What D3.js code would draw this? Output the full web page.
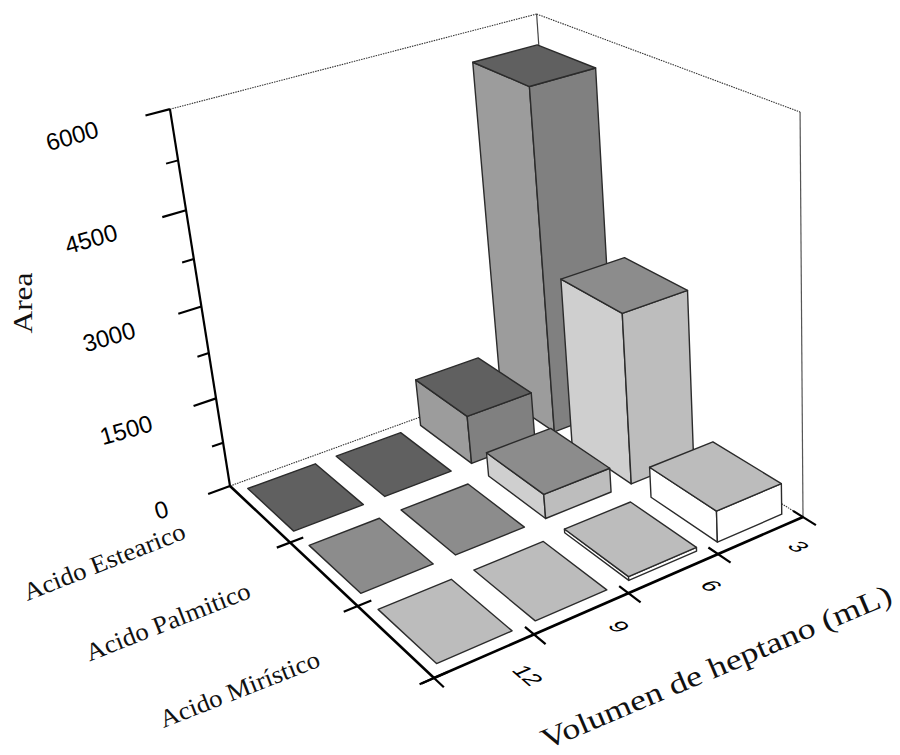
<!DOCTYPE html>
<html>
<head>
<meta charset="utf-8">
<script src="https://d3js.org/d3.v7.min.js"></script>
<style>
  body { margin: 0; background: #fff; }
  .num { font-family: "Liberation Sans", Arial, sans-serif; fill: #000; }
  .lab { font-family: "Liberation Serif", serif; fill: #111; }
</style>
</head>
<body>
<div id="chart"></div>
<script>
// Data
const volumes = ["12", "9", "6", "3"];
const acids = ["Acido Estearico", "Acido Palmitico", "Acido Mirístico"];
const estearicoArea = [0, 0, 810, 5610];
const palmiticoArea = [0, 0, 400, 2770];
const miristicoArea = [0, 0, 60, 500];
const areaTicks = [0, 1500, 3000, 4500, 6000];
const areaMinorTicks = [750, 2250, 3750, 5250];

// top, left face, right face for each acid
const topFill = ["#606060", "#8c8c8c", "#bcbcbc"];
const leftFill = ["#9c9c9c", "#cfcfcf", "#ffffff"];
const rightFill = ["#808080", "#bdbdbd", "#ffffff"];

const rows = [estearicoArea, palmiticoArea, miristicoArea];

// Projection: floor corners on screen, plus vanishing point of the verticals
const floorLeft = [230, 486], floorBack = [561, 366], floorRight = [803, 517], floorFront = [434, 678];
const vanish = [830, 4250];
const heightScale = -0.091;

function squareToQuad(p0, p1, p2, p3) {
  const dx1 = p1[0] - p2[0], dx2 = p3[0] - p2[0], sx = p0[0] - p1[0] + p2[0] - p3[0];
  const dy1 = p1[1] - p2[1], dy2 = p3[1] - p2[1], sy = p0[1] - p1[1] + p2[1] - p3[1];
  const det = dx1 * dy2 - dx2 * dy1;
  const g = (sx * dy2 - dx2 * sy) / det;
  const h = (dx1 * sy - sx * dy1) / det;
  return {
    a: p1[0] - p0[0] + g * p1[0], b: p3[0] - p0[0] + h * p3[0], c: p0[0],
    d: p1[1] - p0[1] + g * p1[1], e: p3[1] - p0[1] + h * p3[1], f: p0[1],
    g: g, h: h
  };
}
const H = squareToQuad(floorLeft, floorBack, floorRight, floorFront);

// s along volume axis, t along acid axis, w up the area axis
function project(s, t, w) {
  const k = heightScale * (w || 0);
  const q = H.g * s + H.h * t + 1 + k;
  return [
    (H.a * s + H.b * t + H.c + k * vanish[0]) / q,
    (H.d * s + H.e * t + H.f + k * vanish[1]) / q
  ];
}

const x = d3.scaleBand().domain(volumes).range([0, 1]).paddingInner(0.24).paddingOuter(0.12);
const y = d3.scaleBand().domain(acids).range([0, 1]).paddingInner(0.24).paddingOuter(0.12);
const z = d3.scaleLinear().domain([0, 6000]).range([0, 1]);

const svg = d3.select("#chart").append("svg")
  .attr("width", 900)
  .attr("height", 755)
  .style("display", "block");

const line = d3.line();

function seg(g, a, b, width, color, dash) {
  g.append("path")
    .attr("d", line([a, b]))
    .attr("fill", "none")
    .attr("stroke", color)
    .attr("stroke-width", width)
    .attr("stroke-dasharray", dash || null);
}

// Back walls
const walls = svg.append("g");
const dots = "1.5 1";
seg(walls, project(0, 0, 0), project(1, 0, 0), 1.1, "#333", dots);
seg(walls, project(1, 0, 0), project(1, 1, 0), 1.1, "#333", dots);
seg(walls, project(0, 0, 1), project(1, 0, 1), 1.1, "#333", dots);
seg(walls, project(1, 0, 1), project(1, 1, 1), 1.1, "#333", dots);
seg(walls, project(1, 0, 0), project(1, 0, 1), 1.2, "#444");
seg(walls, project(1, 1, 0), project(1, 1, 1), 1.2, "#555");

// Bars, back to front
const bars = svg.append("g");
acids.forEach((acid, i) => {
  [...volumes].reverse().forEach(vol => {
    const value = rows[i][volumes.indexOf(vol)];
    const s0 = x(vol), s1 = s0 + x.bandwidth();
    const t0 = y(acid), t1 = t0 + y.bandwidth();
    const w = z(value);
    const face = (pts, fill) => bars.append("path")
      .attr("d", line(pts) + "Z")
      .attr("fill", fill)
      .attr("stroke", "#2b2b2b")
      .attr("stroke-width", 1.4)
      .attr("stroke-linejoin", "round");
    if (value > 0) {
      face([project(s0, t0, 0), project(s0, t1, 0), project(s0, t1, w), project(s0, t0, w)], leftFill[i]);
      face([project(s0, t1, 0), project(s1, t1, 0), project(s1, t1, w), project(s0, t1, w)], rightFill[i]);
    }
    face([project(s0, t0, w), project(s1, t0, w), project(s1, t1, w), project(s0, t1, w)], topFill[i]);
  });
});

// Axes
const axes = svg.append("g");
seg(axes, project(0, 0, 0), project(0, 1, 0), 2.6, "#000");
seg(axes, project(0, 1, 0), project(1, 1, 0), 2.6, "#000");
seg(axes, project(0, 0, 0), project(0, 0, 1), 2.2, "#000");

areaTicks.forEach(d => seg(axes, project(0, 0, z(d)), project(-0.06, 0, z(d)), 2.2, "#000"));
areaMinorTicks.forEach(d => seg(axes, project(0, 0, z(d)), project(-0.03, 0, z(d)), 2, "#000"));

// tick marks on band edges
acids.forEach((d, i) => {
  const t = (i + 1) * y.step();
  seg(axes, project(-0.035, t, 0), project(0.035, t, 0), 2.2, "#000");
});
volumes.forEach((d, i) => {
  const s = (i + 1) * x.step();
  seg(axes, project(s, 0.965, 0), project(s, 1.045, 0), 2.2, "#000");
});
seg(axes, project(0, 1, 0), project(-0.03, 1, 0), 2.2, "#000");
seg(axes, project(0, 1, 0), project(0, 1.04, 0), 2.2, "#000");

// Tick labels
const labels = svg.append("g");
areaTicks.forEach(d => {
  const p = project(-0.23, 0, z(d));
  // the 0 label sits closer in than the rest
  const nudgeX = d === 0 ? 19 : 0;
  const nudgeY = d === 0 ? -9 : 0;
  labels.append("text")
    .attr("class", "num")
    .attr("transform", `translate(${p[0] + nudgeX},${p[1] + 10 + nudgeY}) rotate(-16)`)
    .attr("text-anchor", "middle")
    .attr("font-size", 24)
    .text(d);
});

// Volume labels lie flat on the floor: baseline runs along t, glyph tops along s
volumes.forEach(d => {
  const s = x(d) + x.bandwidth() / 2 + 0.035;
  const p = project(s, 1.09, 0);
  const along = project(s, 1.2, 0), up = project(s + 0.1, 1.09, 0);
  const e1 = [along[0] - p[0], along[1] - p[1]], e2 = [up[0] - p[0], up[1] - p[1]];
  const n1 = Math.hypot(e1[0], e1[1]), n2 = Math.hypot(e2[0], e2[1]);
  labels.append("text")
    .attr("class", "num")
    .attr("transform", `matrix(${e1[0] / n1},${e1[1] / n1},${-e2[0] / n2},${-e2[1] / n2},${p[0]},${p[1]})`)
    .attr("text-anchor", "middle")
    .attr("dx", d.length > 1 ? 8 : 0)
    .attr("dy", "0.35em")
    .attr("font-size", 23)
    .text(d);
});

// Acid labels follow the left axis at a fixed offset
const acidWidths = [172, 175, 170];
acids.forEach((d, i) => {
  const p = project(0, y(d) + y.bandwidth() / 2, 0);
  labels.append("text")
    .attr("class", "lab")
    .attr("transform", `translate(${p[0] - 152},${p[1] + 56}) rotate(-21.5)`)
    .attr("text-anchor", "middle")
    .attr("font-size", 25)
    .attr("textLength", acidWidths[i])
    .attr("lengthAdjust", "spacingAndGlyphs")
    .text(d);
});

// Axis titles
labels.append("text")
  .attr("class", "lab")
  .attr("transform", "translate(32,303) rotate(-90)")
  .attr("text-anchor", "middle")
  .attr("font-size", 27)
  .attr("textLength", 61)
  .attr("lengthAdjust", "spacingAndGlyphs")
  .text("Area");

labels.append("text")
  .attr("class", "lab")
  .attr("transform", "translate(720,676) rotate(-23)")
  .attr("text-anchor", "middle")
  .attr("font-size", 29)
  .attr("textLength", 378)
  .attr("lengthAdjust", "spacingAndGlyphs")
  .text("Volumen de heptano (mL)");
</script>
</body>
</html>
